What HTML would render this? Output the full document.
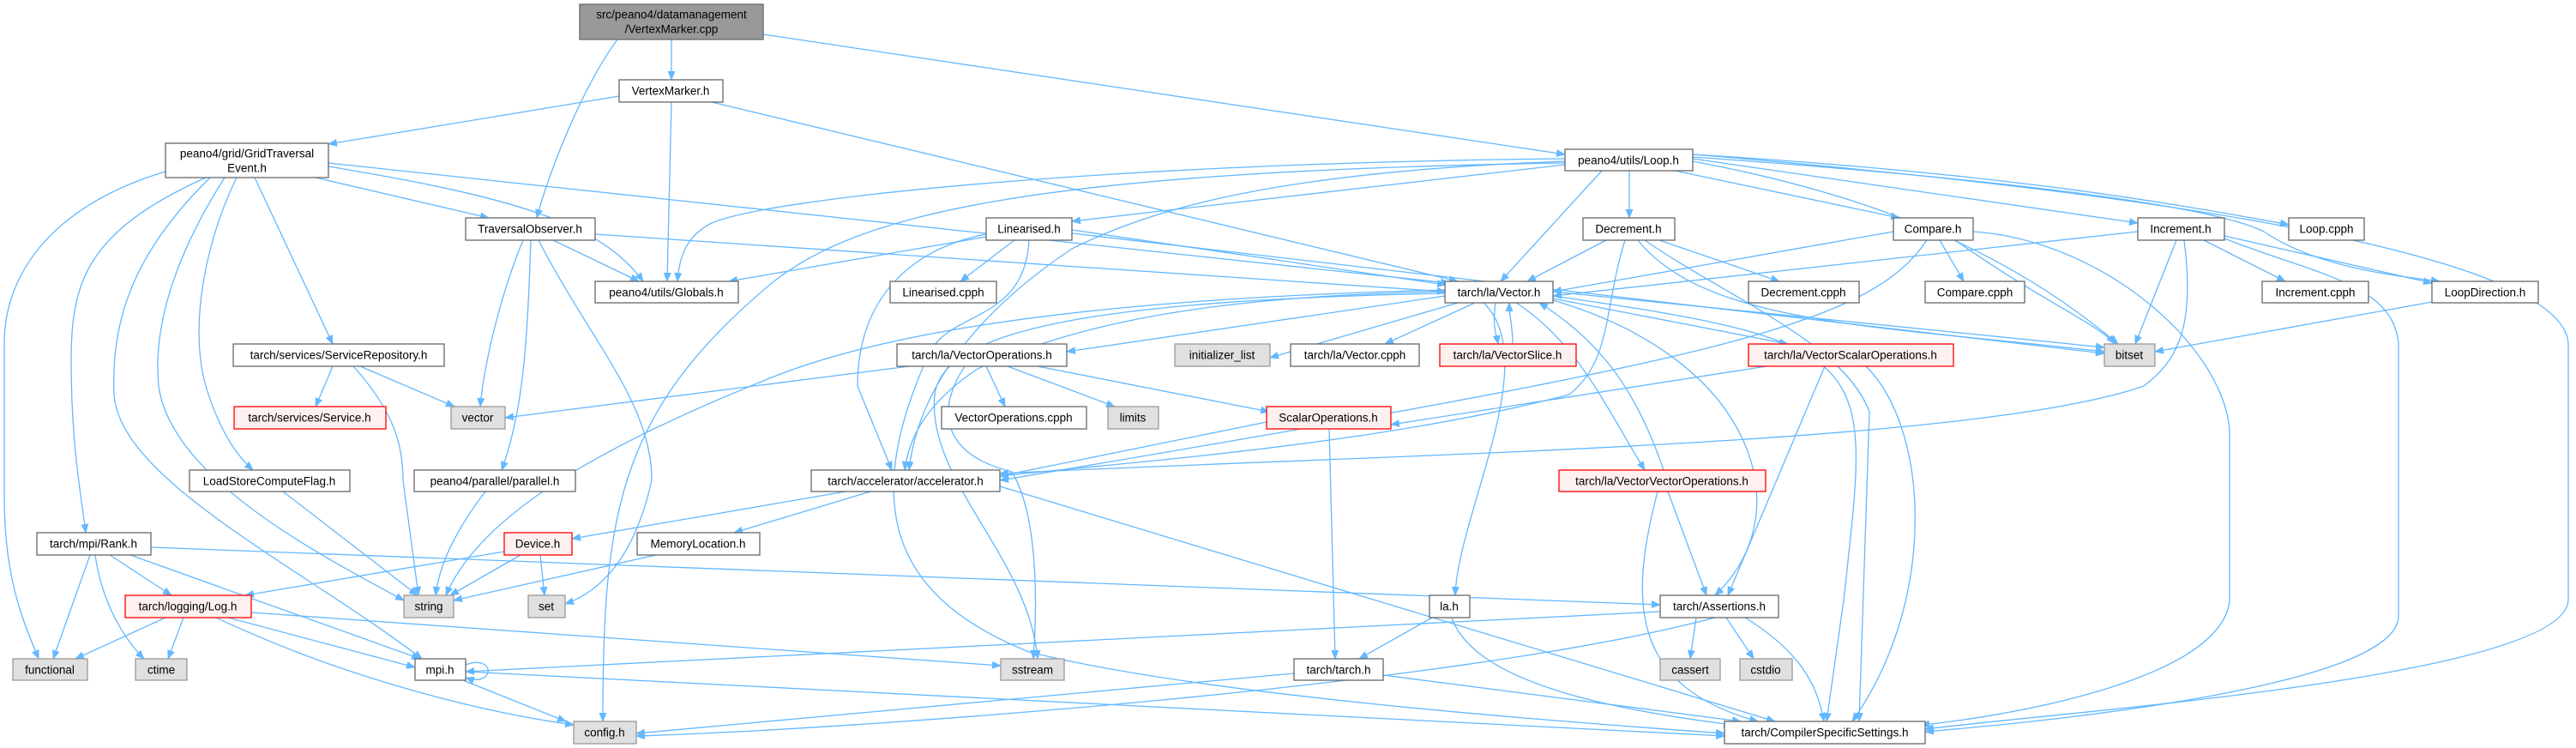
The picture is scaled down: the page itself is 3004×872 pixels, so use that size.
<!DOCTYPE html>
<html><head><meta charset="utf-8"><style>
html,body{margin:0;padding:0;background:#fff;}
svg{display:block;}
text{font-family:"Liberation Sans","DejaVu Sans",sans-serif;font-size:13.5px;fill:#000;text-anchor:middle;dominant-baseline:central;}
.e{fill:none;stroke:#63b8ff;stroke-width:1.3;marker-end:url(#a);}
.n{fill:#fff;stroke:#666;stroke-width:1.3;}
.g{fill:#e0e0e0;stroke:#999;stroke-width:1.3;}
.r{fill:#fff0f0;stroke:#ff0000;stroke-width:1.3;}
.root{fill:#999;stroke:#666;stroke-width:1.3;}
</style></head><body>
<svg width="3004" height="872" viewBox="0 0 3004 872" xmlns="http://www.w3.org/2000/svg">
<defs><marker id="a" markerWidth="11" markerHeight="9" refX="10" refY="4.5" orient="auto" markerUnits="userSpaceOnUse"><path d="M0,0 L11,4.5 L0,9 z" fill="#63b8ff"/></marker></defs>
<g>
<path class="e" d="M783,46 L783,93"/>
<path class="e" d="M720,46 C680,100 640,200 626,254"/>
<path class="e" d="M890,40 L1825,180"/>
<path class="e" d="M722,112 L383,168"/>
<path class="e" d="M783,119 L778,328"/>
<path class="e" d="M830,119 L1700,328"/>
<path class="e" d="M368,207 L570,254"/>
<path class="e" d="M383,194 C600,230 700,260 750,328"/>
<path class="e" d="M383,190 L1690,330"/>
<path class="e" d="M297,207 L388,401"/>
<path class="e" d="M276,207 C240,280 220,380 240,450 C255,500 275,530 295,548"/>
<path class="e" d="M262,207 C190,320 180,400 185,450 C200,560 380,650 471,700"/>
<path class="e" d="M245,207 C150,300 130,380 133,460 C140,560 350,660 492,768"/>
<path class="e" d="M240,207 C100,270 83,330 83,420 C83,520 95,580 100,621"/>
<path class="e" d="M193,200 C60,240 5,320 5,400 L5,580 C5,680 30,730 45,768"/>
<path class="e" d="M645,280 L745,328"/>
<path class="e" d="M694,273 L1686,340"/>
<path class="e" d="M610,280 C585,340 565,420 560,474"/>
<path class="e" d="M619,280 C615,400 610,480 585,548"/>
<path class="e" d="M628,280 C690,400 760,470 760,560 C740,650 700,690 659,704"/>
<path class="e" d="M388,427 L368,474"/>
<path class="e" d="M420,427 L530,474"/>
<path class="e" d="M412,427 C460,480 470,520 470,560 L488,694"/>
<path class="e" d="M330,573 L487,694"/>
<path class="e" d="M566,573 C530,620 512,660 508,694"/>
<path class="e" d="M128,647 L200,694"/>
<path class="e" d="M105,647 L62,768"/>
<path class="e" d="M111,647 C120,710 150,750 168,768"/>
<path class="e" d="M152,647 L490,768"/>
<path class="e" d="M176,638 L1936,705"/>
<path class="e" d="M193,720 L88,768"/>
<path class="e" d="M214,720 L196,768"/>
<path class="e" d="M266,720 L484,778"/>
<path class="e" d="M252,720 C400,790 560,830 669,845"/>
<path class="e" d="M293,714 L1167,776"/>
<path class="e" d="M588,643 L286,694"/>
<path class="e" d="M607,647 L525,694"/>
<path class="e" d="M630,647 L635,694"/>
<path class="e" d="M543,775 C578,762 578,802 543,790"/>
<path class="e" d="M540,793 L660,841"/>
<path class="e" d="M543,783 L2011,858"/>
<path class="e" d="M765,647 L529,700"/>
<path class="e" d="M986,573 L667,628"/>
<path class="e" d="M1015,573 L856,621"/>
<path class="e" d="M1166,567 L2070,841"/>
<path class="e" d="M1825,190 C1200,200 1000,250 900,330 C720,480 703,600 703,841"/>
<path class="e" d="M1825,185 C1300,190 900,230 830,260 C800,275 792,300 790,328"/>
<path class="e" d="M1825,192 L1250,258"/>
<path class="e" d="M1868,199 L1750,328"/>
<path class="e" d="M1900,199 L1900,254"/>
<path class="e" d="M1953,199 L2215,254"/>
<path class="e" d="M1974,185 L2493,260"/>
<path class="e" d="M1974,180 C2300,200 2500,230 2669,262"/>
<path class="e" d="M1974,183 C2350,210 2580,240 2640,270 C2700,310 2780,320 2845,328"/>
<path class="e" d="M1974,188 C2200,230 2350,300 2470,401"/>
<path class="e" d="M1825,188 C1500,200 1350,240 1250,290 C1130,370 1070,460 1060,548"/>
<path class="e" d="M1974,180 C2700,240 2990,320 2995,400 L2995,700 C2990,790 2400,830 2245,850"/>
<path class="e" d="M1150,276 L850,328"/>
<path class="e" d="M1183,280 L1120,328"/>
<path class="e" d="M1250,268 L1686,332"/>
<path class="e" d="M1250,272 L2454,412"/>
<path class="e" d="M1150,273 C1060,290 1000,350 1000,450 L1040,548"/>
<path class="e" d="M1200,280 C1195,380 1100,360 1080,420 C1000,600 1050,700 1200,760 C1400,810 1800,840 2011,855"/>
<path class="e" d="M1873,280 L1781,328"/>
<path class="e" d="M1935,280 L2075,328"/>
<path class="e" d="M1895,280 C1870,360 1880,420 1830,460 C1600,520 1300,540 1166,555"/>
<path class="e" d="M1910,280 C1990,380 2200,380 2454,410"/>
<path class="e" d="M1918,280 C2020,350 2150,400 2180,480 L2168,841"/>
<path class="e" d="M2208,270 L1811,340"/>
<path class="e" d="M2262,280 L2290,328"/>
<path class="e" d="M2280,280 C2380,350 2450,380 2466,401"/>
<path class="e" d="M2247,280 C2180,380 2000,420 1166,560"/>
<path class="e" d="M2301,270 C2450,280 2590,400 2600,500 L2600,700 C2590,800 2300,840 2240,845"/>
<path class="e" d="M2493,270 L1811,345"/>
<path class="e" d="M2570,280 L2665,328"/>
<path class="e" d="M2594,275 L2836,330"/>
<path class="e" d="M2538,280 L2490,401"/>
<path class="e" d="M2547,280 C2560,380 2540,420 2500,450 C2300,520 1600,530 1166,552"/>
<path class="e" d="M2594,278 C2700,320 2790,330 2797,400 L2797,720 C2790,800 2400,840 2245,853"/>
<path class="e" d="M2836,352 L2513,410"/>
<path class="e" d="M1700,353 L1481,417"/>
<path class="e" d="M1720,353 L1615,401"/>
<path class="e" d="M1744,353 C1740,380 1745,390 1747,401"/>
<path class="e" d="M1764,401 C1764,380 1760,370 1760,353"/>
<path class="e" d="M1811,348 L2085,401"/>
<path class="e" d="M1768,353 C1840,400 1870,470 1918,548"/>
<path class="e" d="M1940,548 C1910,460 1870,400 1795,353"/>
<path class="e" d="M1685,345 L1244,410"/>
<path class="e" d="M1685,340 C1400,345 1250,380 1140,430 C1080,470 1060,510 1055,548"/>
<path class="e" d="M1730,353 C1800,420 1700,600 1697,694"/>
<path class="e" d="M1685,342 C1300,350 1100,380 1090,460 C1080,560 1200,650 1210,768"/>
<path class="e" d="M1685,338 C1200,350 1000,400 900,440 C700,520 560,600 520,694"/>
<path class="e" d="M1811,340 L2454,405"/>
<path class="e" d="M1811,350 C2050,420 2100,600 2000,694"/>
<path class="e" d="M1811,345 C2200,400 2180,420 2150,700 L2130,841"/>
<path class="e" d="M1060,427 L589,487"/>
<path class="e" d="M1150,427 L1172,474"/>
<path class="e" d="M1175,427 L1300,474"/>
<path class="e" d="M1210,427 L1480,480"/>
<path class="e" d="M1125,427 C1090,480 1100,530 1180,550 C1210,600 1210,700 1205,768"/>
<path class="e" d="M2060,427 L1622,495"/>
<path class="e" d="M2128,427 L2015,694"/>
<path class="e" d="M2176,427 C2250,500 2260,700 2160,841"/>
<path class="e" d="M1550,500 L1557,768"/>
<path class="e" d="M1477,492 L1166,555"/>
<path class="e" d="M1945,573 L1990,694"/>
<path class="e" d="M1933,573 C1900,700 1900,800 2050,841"/>
<path class="e" d="M1670,720 L1585,768"/>
<path class="e" d="M1693,720 C1720,800 1900,830 2020,845"/>
<path class="e" d="M1509,785 L742,855"/>
<path class="e" d="M1613,787 L2030,841"/>
<path class="e" d="M1978,720 L1971,768"/>
<path class="e" d="M2013,720 L2045,768"/>
<path class="e" d="M2035,720 C2100,760 2120,800 2127,841"/>
<path class="e" d="M2000,720 C1700,800 1000,850 742,858"/>
<path class="e" d="M1936,713 L543,783"/>
</g>
<g>
<rect class="root" x="676" y="5" width="214" height="41"/><text x="783" y="17">src/peano4/datamanagement</text><text x="783" y="34">/VertexMarker.cpp</text>
<rect class="n" x="722" y="93" width="121" height="26"/><text x="782" y="106">VertexMarker.h</text>
<rect class="n" x="193" y="167" width="190" height="40"/><text x="288" y="179">peano4/grid/GridTraversal</text><text x="288" y="196">Event.h</text>
<rect class="n" x="543" y="254" width="151" height="26"/><text x="618" y="267">TraversalObserver.h</text>
<rect class="n" x="694" y="328" width="167" height="25"/><text x="777" y="341">peano4/utils/Globals.h</text>
<rect class="n" x="272" y="401" width="246" height="26"/><text x="395" y="414">tarch/services/ServiceRepository.h</text>
<rect class="r" x="273" y="474" width="177" height="26"/><text x="361" y="487">tarch/services/Service.h</text>
<rect class="g" x="526" y="474" width="63" height="26"/><text x="557" y="487">vector</text>
<rect class="n" x="221" y="548" width="187" height="25"/><text x="314" y="561">LoadStoreComputeFlag.h</text>
<rect class="n" x="483" y="548" width="188" height="25"/><text x="577" y="561">peano4/parallel/parallel.h</text>
<rect class="n" x="43" y="621" width="133" height="26"/><text x="109" y="634">tarch/mpi/Rank.h</text>
<rect class="r" x="588" y="621" width="79" height="26"/><text x="627" y="634">Device.h</text>
<rect class="r" x="146" y="694" width="147" height="26"/><text x="219" y="707">tarch/logging/Log.h</text>
<rect class="g" x="471" y="694" width="58" height="26"/><text x="500" y="707">string</text>
<rect class="g" x="616" y="694" width="43" height="26"/><text x="637" y="707">set</text>
<rect class="g" x="15" y="768" width="87" height="25"/><text x="58" y="781">functional</text>
<rect class="g" x="158" y="768" width="60" height="25"/><text x="188" y="781">ctime</text>
<rect class="n" x="484" y="768" width="59" height="25"/><text x="513" y="781">mpi.h</text>
<rect class="g" x="669" y="841" width="73" height="26"/><text x="705" y="854">config.h</text>
<rect class="n" x="1150" y="254" width="100" height="26"/><text x="1200" y="267">Linearised.h</text>
<rect class="n" x="1038" y="328" width="124" height="25"/><text x="1100" y="341">Linearised.cpph</text>
<rect class="n" x="1046" y="401" width="198" height="26"/><text x="1145" y="414">tarch/la/VectorOperations.h</text>
<rect class="g" x="1370" y="401" width="111" height="26"/><text x="1425" y="414">initializer_list</text>
<rect class="n" x="1825" y="174" width="149" height="25"/><text x="1899" y="187">peano4/utils/Loop.h</text>
<rect class="n" x="1846" y="254" width="107" height="26"/><text x="1899" y="267">Decrement.h</text>
<rect class="n" x="1685" y="328" width="126" height="25"/><text x="1748" y="341">tarch/la/Vector.h</text>
<rect class="n" x="2039" y="328" width="129" height="25"/><text x="2103" y="341">Decrement.cpph</text>
<rect class="n" x="1505" y="401" width="150" height="26"/><text x="1580" y="414">tarch/la/Vector.cpph</text>
<rect class="r" x="1679" y="401" width="159" height="26"/><text x="1758" y="414">tarch/la/VectorSlice.h</text>
<rect class="r" x="2039" y="401" width="239" height="26"/><text x="2158" y="414">tarch/la/VectorScalarOperations.h</text>
<rect class="n" x="2208" y="254" width="93" height="26"/><text x="2254" y="267">Compare.h</text>
<rect class="n" x="2493" y="254" width="101" height="26"/><text x="2543" y="267">Increment.h</text>
<rect class="n" x="2669" y="254" width="88" height="26"/><text x="2713" y="267">Loop.cpph</text>
<rect class="n" x="2245" y="328" width="116" height="25"/><text x="2303" y="341">Compare.cpph</text>
<rect class="n" x="2638" y="328" width="124" height="25"/><text x="2700" y="341">Increment.cpph</text>
<rect class="n" x="2836" y="328" width="124" height="25"/><text x="2898" y="341">LoopDirection.h</text>
<rect class="g" x="2454" y="401" width="59" height="26"/><text x="2483" y="414">bitset</text>
<rect class="n" x="1098" y="474" width="169" height="26"/><text x="1182" y="487">VectorOperations.cpph</text>
<rect class="g" x="1292" y="474" width="59" height="26"/><text x="1321" y="487">limits</text>
<rect class="r" x="1477" y="474" width="145" height="26"/><text x="1549" y="487">ScalarOperations.h</text>
<rect class="n" x="946" y="548" width="220" height="25"/><text x="1056" y="561">tarch/accelerator/accelerator.h</text>
<rect class="n" x="743" y="621" width="143" height="26"/><text x="814" y="634">MemoryLocation.h</text>
<rect class="g" x="1167" y="768" width="74" height="25"/><text x="1204" y="781">sstream</text>
<rect class="r" x="1818" y="548" width="241" height="25"/><text x="1938" y="561">tarch/la/VectorVectorOperations.h</text>
<rect class="n" x="1667" y="694" width="47" height="26"/><text x="1690" y="707">la.h</text>
<rect class="n" x="1936" y="694" width="138" height="26"/><text x="2005" y="707">tarch/Assertions.h</text>
<rect class="n" x="1509" y="768" width="104" height="25"/><text x="1561" y="781">tarch/tarch.h</text>
<rect class="g" x="1936" y="768" width="70" height="25"/><text x="1971" y="781">cassert</text>
<rect class="g" x="2029" y="768" width="61" height="25"/><text x="2059" y="781">cstdio</text>
<rect class="n" x="2011" y="841" width="234" height="26"/><text x="2128" y="854">tarch/CompilerSpecificSettings.h</text>
</g>
</svg>
</body></html>
